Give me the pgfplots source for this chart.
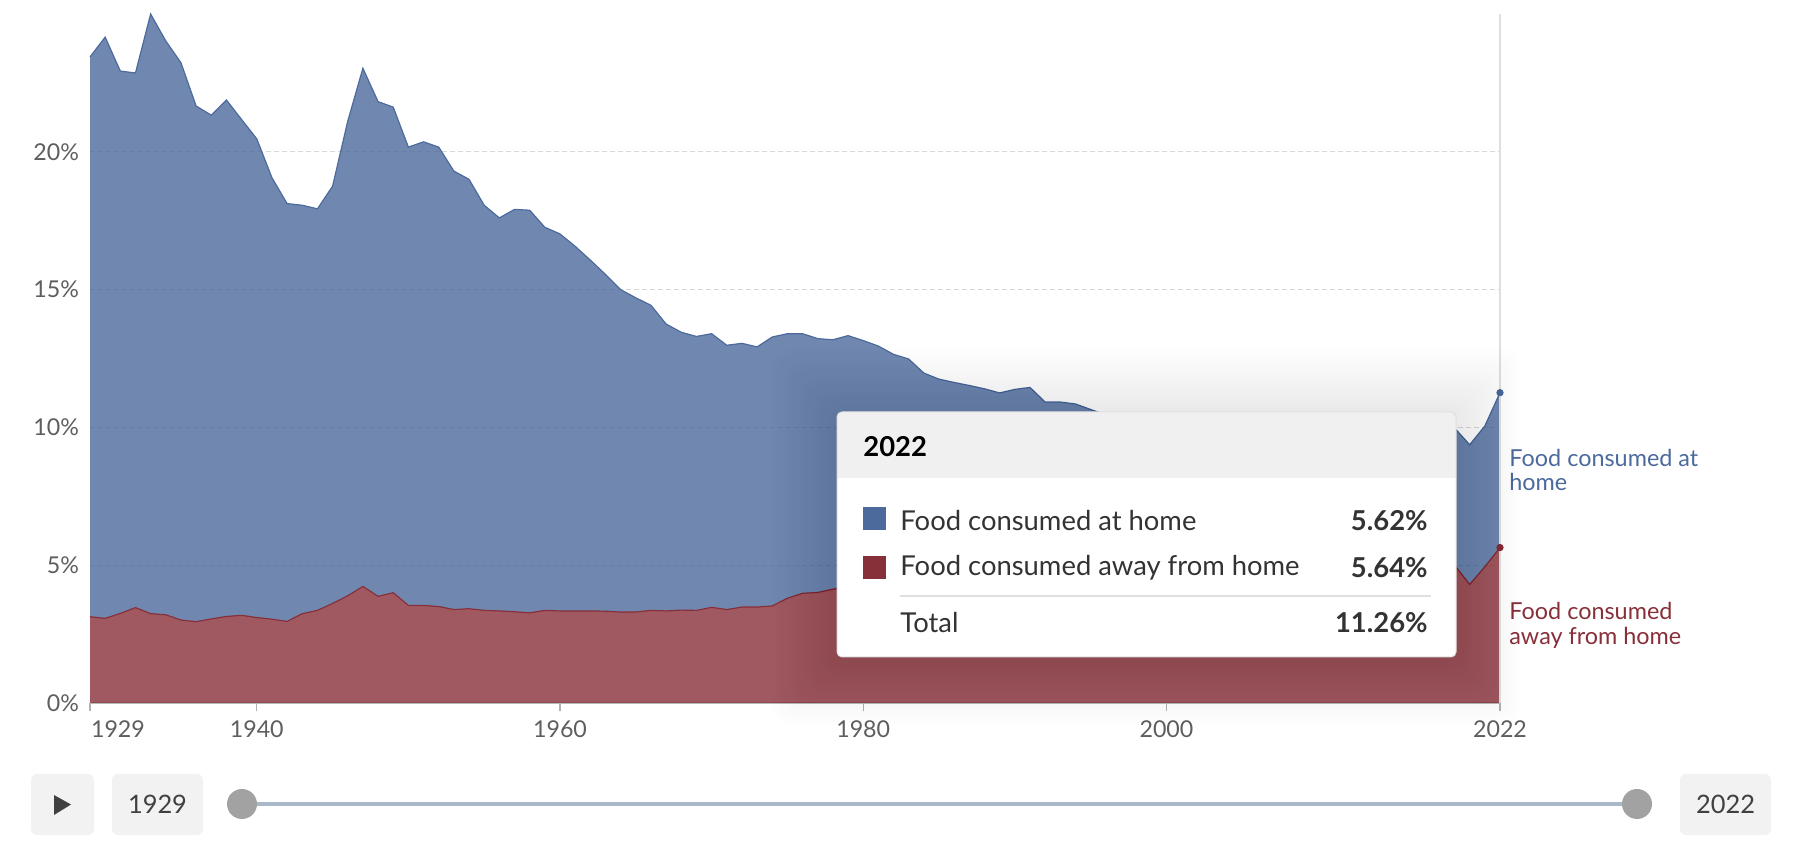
\documentclass[border=0pt]{standalone}
\usepackage{fontspec}
\setmainfont{Lato}
\usepackage{pgfplots}
\pgfplotsset{compat=1.18}
\usepackage{pgfplotstable}
\usepgfplotslibrary{fillbetween}

\definecolor{homecol}{HTML}{4C6A9C}
\definecolor{awaycol}{HTML}{883039}
\definecolor{labelgray}{HTML}{5E5E5E}
\definecolor{textdark}{HTML}{333333}
\definecolor{headgray}{HTML}{F0F0F0}
\definecolor{btngray}{HTML}{F2F2F2}
\definecolor{slidercol}{HTML}{A9B9CA}
\definecolor{knobcol}{HTML}{A2A2A2}

% share of disposable income spent on food, %
\pgfplotstableread{
year home away
1929 20.31 3.13
1930 21.09 3.07
1931 19.68 3.25
1932 19.40 3.46
1933 21.76 3.24
1934 20.82 3.20
1935 20.22 3.01
1936 18.71 2.95
1937 18.28 3.05
1938 18.74 3.14
1939 17.99 3.18
1940 17.37 3.10
1941 16.02 3.04
1942 15.16 2.96
1943 14.82 3.24
1944 14.57 3.36
1945 15.14 3.61
1946 17.22 3.89
1947 18.80 4.23
1948 17.95 3.87
1949 17.62 4.00
1950 16.63 3.54
1951 16.82 3.54
1952 16.67 3.50
1953 15.91 3.39
1954 15.58 3.42
1955 14.70 3.36
1956 14.26 3.34
1957 14.60 3.31
1958 14.61 3.27
1959 13.90 3.36
1960 13.68 3.34
1961 13.23 3.34
1962 12.73 3.34
1963 12.22 3.33
1964 11.70 3.30
1965 11.40 3.30
1966 11.07 3.36
1967 10.41 3.34
1968 10.08 3.37
1969 9.94 3.36
1970 9.93 3.47
1971 9.59 3.39
1972 9.57 3.48
1973 9.44 3.48
1974 9.76 3.52
1975 9.60 3.80
1976 9.42 3.98
1977 9.21 4.01
1978 9.05 4.13
1979 9.13 4.20
1980 8.95 4.20
1981 8.80 4.15
1982 8.45 4.20
1983 8.18 4.30
1984 7.62 4.35
1985 7.35 4.40
1986 7.18 4.45
1987 7.07 4.45
1988 6.90 4.50
1989 6.75 4.50
1990 6.83 4.55
1991 6.95 4.50
1992 6.47 4.45
1993 6.47 4.45
1994 6.40 4.45
1995 6.20 4.45
1996 6.00 4.45
1997 5.90 4.40
1998 5.75 4.45
1999 5.60 4.50
2000 5.45 4.55
2001 5.40 4.55
2002 5.35 4.50
2003 5.30 4.55
2004 5.20 4.60
2005 5.15 4.60
2006 5.10 4.65
2007 5.20 4.65
2008 5.30 4.60
2009 5.35 4.50
2010 5.30 4.45
2011 5.30 4.50
2012 5.20 4.60
2013 5.10 4.65
2014 4.95 4.75
2015 4.90 4.85
2016 4.80 4.90
2017 4.80 4.95
2018 4.85 5.00
2019 4.98 5.00
2020 5.07 4.30
2021 5.11 4.94
2022 5.62 5.64
}\fooddata
\pgfplotstablecreatecol[expr={\thisrow{home}+\thisrow{away}}]{total}\fooddata

\begin{document}
\begin{tikzpicture}
% page frame, 1 px = 0.5 pt
\path (0pt,0pt) rectangle (902.5pt,425pt);

\begin{axis}[
    at={(45pt,73.5pt)}, anchor=south west,
    scale only axis, width=705pt, height=344.5pt,
    xmin=1929, xmax=2022, ymin=0, ymax=25,
    set layers, clip=false,
    axis x line*=bottom, axis y line*=left,
    x axis line style={-, color=gray!55, line width=0.6pt},
    y axis line style={draw=none},
    xtick={1940,1960,1980,2000,2022},
    extra x ticks={1929},
    extra x tick style={xticklabel style={anchor=north west, xshift=-3pt}},
    ytick={0,5,10,15,20},
    ymajorgrids,
    major grid style={dash pattern=on 2.5pt off 1.5pt, color=gray!30, line width=0.5pt},
    tick align=outside, major tick length=4pt,
    xtick style={color=gray!60, line width=0.6pt},
    ytick style={draw=none},
    ticklabel style={font=\fontsize{11.6}{13}\selectfont, text=labelgray},
    xticklabel style={yshift=-1.5pt},
    /pgf/number format/assume math mode=true,
    /pgf/number format/1000 sep={},
    yticklabel={\pgfmathprintnumber{\tick}\%},
    yticklabel style={xshift=2pt},
]
\addplot[draw=awaycol, line width=0.6pt, name path=away] table[x=year, y=away] {\fooddata};
\addplot[draw=homecol, line width=0.6pt, name path=total] table[x=year, y=total] {\fooddata};
\path[name path=base] (axis cs:1929,0) -- (axis cs:2022,0);
\addplot[fill=homecol, fill opacity=0.8, draw=none] fill between[of=total and away];
\addplot[fill=awaycol, fill opacity=0.8, draw=none] fill between[of=away and base];
\draw[color=gray!25, line width=0.8pt] (axis cs:2022,0) -- (axis cs:2022,25);
\addplot[only marks, mark=*, mark size=1.6pt, color=homecol] coordinates {(2022,11.26)};
\addplot[only marks, mark=*, mark size=1.6pt, color=awaycol] coordinates {(2022,5.64)};
\end{axis}

% series labels at the right end
\node[anchor=west, align=left, text=homecol, font=\fontsize{11.7}{12.4}\selectfont, inner sep=0pt]
  at (754.5pt,190pt) {Food consumed at\\home};
\node[anchor=west, align=left, text=awaycol, font=\fontsize{11.7}{12.4}\selectfont, inner sep=0pt]
  at (754.5pt,112.5pt) {Food consumed\\away from home};

% tooltip with soft shadow
\foreach \i in {1,...,22} {
  \fill[black, opacity=0.0055, rounded corners=10pt]
    (418.5pt-\i*1.5pt, 95pt-\i*1.5pt) rectangle (728pt+\i*1.5pt, 218pt+\i*1.5pt);
}
\fill[white, rounded corners=2.5pt] (418.5pt,96.5pt) rectangle (728pt,219pt);
\begin{scope}
  \clip[rounded corners=2.5pt] (418.5pt,96.5pt) rectangle (728pt,219pt);
  \fill[headgray] (418.5pt,186pt) rectangle (728pt,219pt);
\end{scope}
\draw[gray!25, line width=0.5pt, rounded corners=2.5pt] (418.5pt,96.5pt) rectangle (728pt,219pt);

\node[anchor=west, inner sep=0pt, font=\fontsize{13.7}{16}\selectfont\bfseries, text=black]
  at (431.5pt,201.5pt) {2022};
\fill[homecol] (431.5pt,160pt) rectangle (443pt,171.5pt);
\fill[awaycol] (431.5pt,135.5pt) rectangle (443pt,147pt);
\node[anchor=west, inner sep=0pt, font=\fontsize{13.7}{16}\selectfont, text=textdark]
  at (450pt,164.5pt) {Food consumed at home};
\node[anchor=west, inner sep=0pt, font=\fontsize{13.7}{16}\selectfont, text=textdark]
  at (450pt,141pt) {Food consumed away from home};
\node[anchor=west, inner sep=0pt, font=\fontsize{13.7}{16}\selectfont, text=textdark]
  at (450pt,113.5pt) {Total};
\node[anchor=east, inner sep=0pt, font=\fontsize{13.7}{16}\selectfont\bfseries, text=textdark]
  at (714pt,164.5pt) {5.62\%};
\node[anchor=east, inner sep=0pt, font=\fontsize{13.7}{16}\selectfont\bfseries, text=textdark]
  at (714pt,141pt) {5.64\%};
\node[anchor=east, inner sep=0pt, font=\fontsize{13.7}{16}\selectfont\bfseries, text=textdark]
  at (714pt,113.5pt) {11.26\%};
\draw[gray!25, line width=0.6pt] (450pt,127pt) -- (715.5pt,127pt);

% timeline controls
\fill[btngray, rounded corners=3pt] (15.5pt,7.5pt) rectangle (47pt,38pt);
\fill[black!75] (27pt,27.5pt) -- (35.5pt,22.75pt) -- (27pt,17.5pt) -- cycle;
\fill[btngray, rounded corners=3pt] (56pt,7.5pt) rectangle (101.5pt,38pt);
\node[font=\fontsize{12.7}{14}\selectfont, text=black!75] at (78.75pt,22.75pt) {1929};
\fill[btngray, rounded corners=3pt] (840pt,7.5pt) rectangle (885.5pt,38pt);
\node[font=\fontsize{12.7}{14}\selectfont, text=black!75] at (862.75pt,22.75pt) {2022};
\draw[slidercol, line width=1.6pt] (121pt,23pt) -- (818.5pt,23pt);
\fill[knobcol] (121pt,23pt) circle (7.5pt);
\fill[knobcol] (818.5pt,23pt) circle (7.5pt);
\end{tikzpicture}
\end{document}
